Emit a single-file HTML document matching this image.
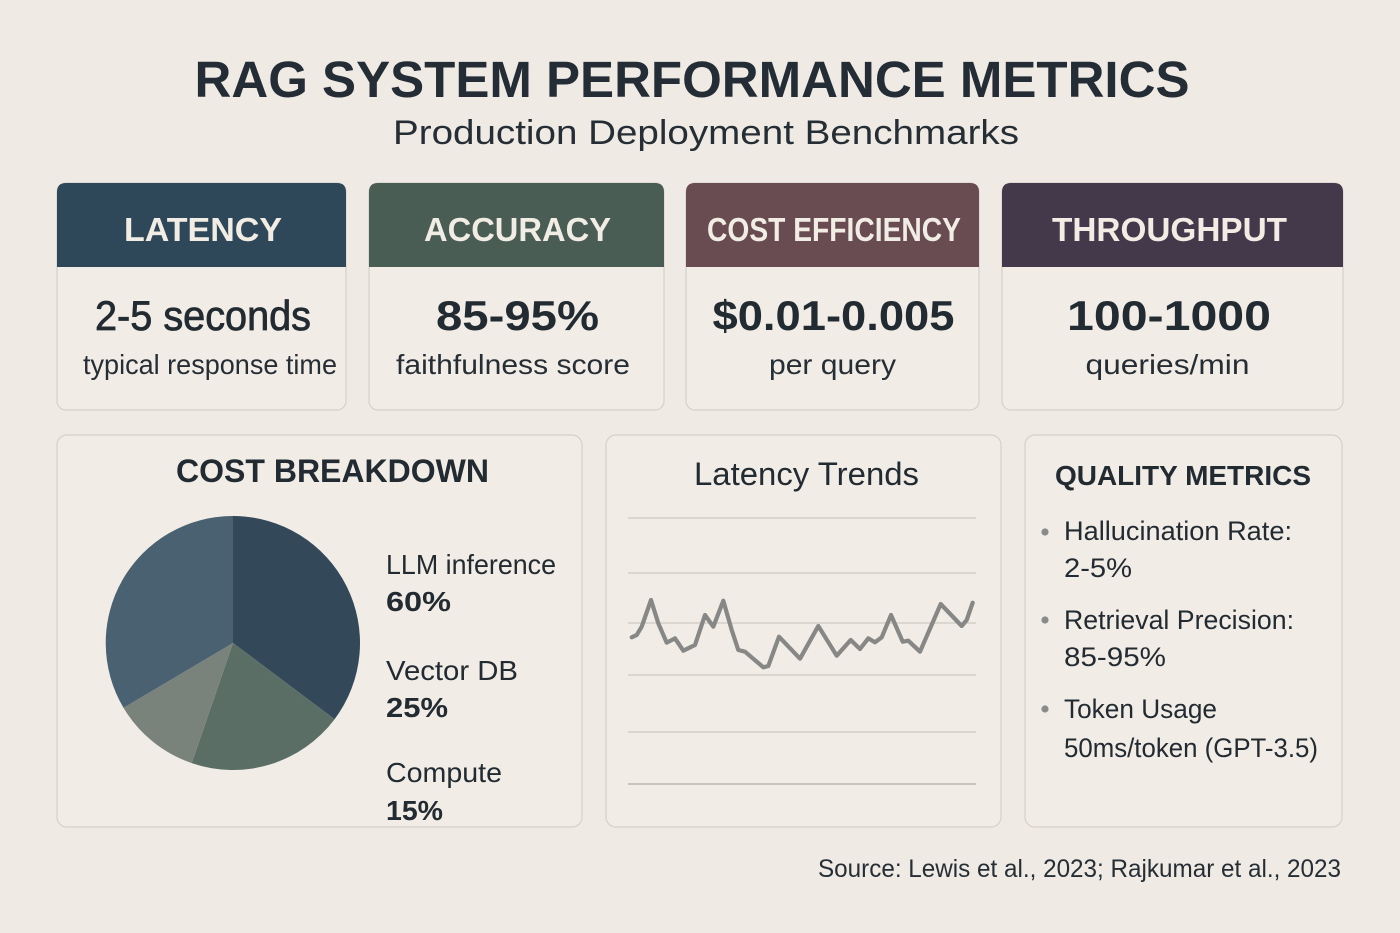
<!DOCTYPE html>
<html>
<head>
<meta charset="utf-8">
<style>
  html,body{margin:0;padding:0;background:#efeae4;}
  svg{display:block;}
  text{font-family:"Liberation Sans", Arial, sans-serif;}
</style>
</head>
<body>
<svg width="1400" height="933" viewBox="0 0 1400 933" xmlns="http://www.w3.org/2000/svg">
  <rect x="0" y="0" width="1400" height="933" fill="#efeae4"/>

  <!-- Title -->
  <text x="692" y="97" font-size="51" font-weight="bold" fill="#242d35" text-anchor="middle" textLength="995" lengthAdjust="spacingAndGlyphs">RAG SYSTEM PERFORMANCE METRICS</text>
  <text x="706" y="144" font-size="34" fill="#262e35" text-anchor="middle" textLength="626" lengthAdjust="spacingAndGlyphs">Production Deployment Benchmarks</text>

  <!-- Top cards -->
  <g stroke="#d6d0c9" stroke-width="1.2">
    <rect x="57" y="183" width="289" height="227" rx="9" fill="#f1ece6"/>
    <rect x="369" y="183" width="295" height="227" rx="9" fill="#f1ece6"/>
    <rect x="686" y="183" width="293" height="227" rx="9" fill="#f1ece6"/>
    <rect x="1002" y="183" width="341" height="227" rx="9" fill="#f1ece6"/>
  </g>
  <path d="M57,267 V192 Q57,183 66,183 H337 Q346,183 346,192 V267 Z" fill="#2f4859"/>
  <path d="M369,267 V192 Q369,183 378,183 H655 Q664,183 664,192 V267 Z" fill="#4a5d55"/>
  <path d="M686,267 V192 Q686,183 695,183 H970 Q979,183 979,192 V267 Z" fill="#694c52"/>
  <path d="M1002,267 V192 Q1002,183 1011,183 H1334 Q1343,183 1343,192 V267 Z" fill="#43394a"/>

  <g fill="#f1ece4" font-size="33" font-weight="bold" text-anchor="middle">
    <text x="203" y="241" textLength="158" lengthAdjust="spacingAndGlyphs">LATENCY</text>
    <text x="517.5" y="241" textLength="187" lengthAdjust="spacingAndGlyphs">ACCURACY</text>
    <text x="834" y="241" textLength="254" lengthAdjust="spacingAndGlyphs">COST EFFICIENCY</text>
    <text x="1169.5" y="241" textLength="235" lengthAdjust="spacingAndGlyphs">THROUGHPUT</text>
  </g>

  <g fill="#232b32" font-size="42" text-anchor="middle">
    <text x="203" y="330" textLength="216" lengthAdjust="spacingAndGlyphs" stroke="#232b32" stroke-width="0.8">2-5 seconds</text>
    <text x="517.5" y="330" font-weight="bold" textLength="163" lengthAdjust="spacingAndGlyphs">85-95%</text>
    <text x="833.5" y="330" font-weight="bold" textLength="242" lengthAdjust="spacingAndGlyphs">$0.01-0.005</text>
    <text x="1169" y="330" font-weight="bold" textLength="204" lengthAdjust="spacingAndGlyphs">100-1000</text>
  </g>
  <g fill="#262e35" font-size="28" text-anchor="middle">
    <text x="210" y="374" textLength="254" lengthAdjust="spacingAndGlyphs">typical response time</text>
    <text x="513" y="374" textLength="234" lengthAdjust="spacingAndGlyphs">faithfulness score</text>
    <text x="832.5" y="374" textLength="127" lengthAdjust="spacingAndGlyphs">per query</text>
    <text x="1167.5" y="374" textLength="164" lengthAdjust="spacingAndGlyphs">queries/min</text>
  </g>

  <!-- Bottom cards -->
  <g stroke="#d6d0c9" stroke-width="1.2" fill="#f1ece6">
    <rect x="57" y="435" width="525" height="392" rx="10"/>
    <rect x="606" y="435" width="395" height="392" rx="10"/>
    <rect x="1025" y="435" width="317" height="392" rx="10"/>
  </g>

  <!-- Cost breakdown -->
  <text x="332.5" y="482" font-size="32" font-weight="bold" fill="#232b32" text-anchor="middle" textLength="313" lengthAdjust="spacingAndGlyphs">COST BREAKDOWN</text>
  <!-- pie center (233,643) r 127 -->
  <path d="M233,643 L233,516 A127,127 0 0 1 334.6,719.2 Z" fill="#334959"/>
  <path d="M233,643 L334.6,719.2 A127,127 0 0 1 191.7,763.1 Z" fill="#5b6e65"/>
  <path d="M233,643 L191.7,763.1 A127,127 0 0 1 123.5,707.8 Z" fill="#7a827c"/>
  <path d="M233,643 L123.5,707.8 A127,127 0 0 1 233,516 Z" fill="#4a6171"/>

  <g fill="#232b32" font-size="28">
    <text x="386" y="574" textLength="170" lengthAdjust="spacingAndGlyphs">LLM inference</text>
    <text x="386" y="611" font-weight="bold" textLength="65" lengthAdjust="spacingAndGlyphs">60%</text>
    <text x="386" y="680" textLength="132" lengthAdjust="spacingAndGlyphs">Vector DB</text>
    <text x="386" y="717" font-weight="bold" textLength="62" lengthAdjust="spacingAndGlyphs">25%</text>
    <text x="386" y="782" textLength="116" lengthAdjust="spacingAndGlyphs">Compute</text>
    <text x="386" y="820" font-weight="bold" textLength="57" lengthAdjust="spacingAndGlyphs">15%</text>
  </g>

  <!-- Latency Trends -->
  <text x="806.5" y="485" font-size="32" fill="#232b32" text-anchor="middle" textLength="225" lengthAdjust="spacingAndGlyphs">Latency Trends</text>
  <g stroke="#cfc9c2" stroke-width="1.3">
    <line x1="628" y1="518" x2="976" y2="518"/>
    <line x1="628" y1="573" x2="976" y2="573"/>
    <line x1="628" y1="623" x2="976" y2="623"/>
    <line x1="628" y1="675" x2="976" y2="675"/>
    <line x1="628" y1="732" x2="976" y2="732"/>
    <line x1="628" y1="784" x2="976" y2="784" stroke="#bdb7b0" stroke-width="1.6"/>
  </g>
  <polyline fill="none" stroke="#878885" stroke-width="4.2" stroke-linejoin="round" stroke-linecap="round"
    points="631.7,637.3 636.7,635 641.7,626.7 651,600 658.3,623.3 666.7,642.7 675,638.3 683.3,650.7 695,645 705,615 713.3,626.7 723.3,600.7 731.7,630 738.3,650 745,651.7 763.3,667.3 768.3,666 779,636.7 800,658.7 818.3,626 836.7,655.7 850.7,640 860,649 868.3,638.3 875,642.3 881.7,637.3 891,615 902.7,641.7 908.3,640.7 920,651.7 940.7,604 961.7,626 966.7,620 972.7,602.7"/>

  <!-- Quality metrics -->
  <text x="1183" y="485" font-size="28" font-weight="bold" fill="#232b32" text-anchor="middle" textLength="256" lengthAdjust="spacingAndGlyphs">QUALITY METRICS</text>
  <g fill="#8a8b88">
    <circle cx="1045" cy="532" r="3.6"/>
    <circle cx="1045" cy="620" r="3.6"/>
    <circle cx="1045" cy="709" r="3.6"/>
  </g>
  <g fill="#232b32" font-size="27">
    <text x="1064" y="540" textLength="228" lengthAdjust="spacingAndGlyphs">Hallucination Rate:</text>
    <text x="1064" y="577" textLength="68" lengthAdjust="spacingAndGlyphs">2-5%</text>
    <text x="1064" y="629" textLength="230" lengthAdjust="spacingAndGlyphs">Retrieval Precision:</text>
    <text x="1064" y="666" textLength="102" lengthAdjust="spacingAndGlyphs">85-95%</text>
    <text x="1064" y="718" textLength="153" lengthAdjust="spacingAndGlyphs">Token Usage</text>
    <text x="1064" y="757" textLength="254" lengthAdjust="spacingAndGlyphs">50ms/token (GPT-3.5)</text>
  </g>

  <!-- Source -->
  <text x="1341" y="877" font-size="25" fill="#262e35" text-anchor="end" textLength="523" lengthAdjust="spacingAndGlyphs">Source: Lewis et al., 2023; Rajkumar et al., 2023</text>
</svg>
</body>
</html>
